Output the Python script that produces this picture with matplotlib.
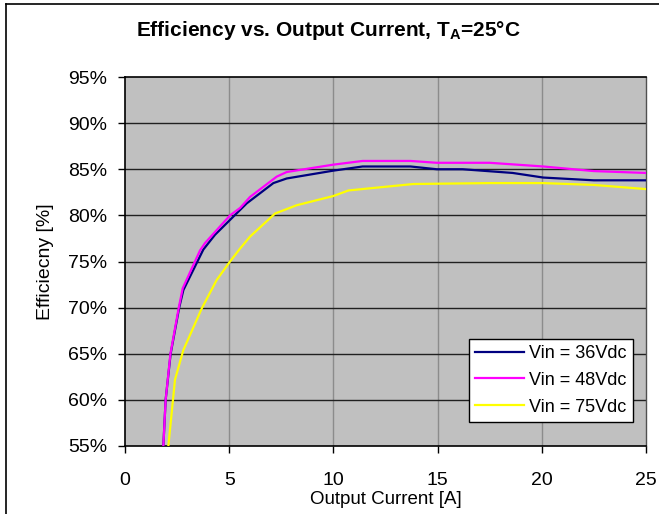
import numpy as np
import matplotlib
matplotlib.use('Agg')
from matplotlib import pyplot as plt
from matplotlib.lines import Line2D
from matplotlib.ticker import FuncFormatter

plt.rcParams['font.family'] = ['Liberation Sans', 'DejaVu Sans']
plt.rcParams['mathtext.fontset'] = 'custom'
plt.rcParams['mathtext.rm'] = 'Liberation Sans'
plt.rcParams['mathtext.bf'] = 'Liberation Sans:bold'

# values
i_36 = [1.84, 1.95, 2.19, 2.6, 2.8, 3.76, 4.32, 5.84, 7.12, 7.76, 10.0, 11.4, 13.7, 14.96, 16.2, 18.6, 20.07, 22.5, 25.0]
eff_36 = [55.0, 60.0, 65.0, 70.0, 71.9, 76.3, 77.9, 81.3, 83.5, 84.0, 84.85, 85.3, 85.3, 85.0, 85.0, 84.6, 84.1, 83.8, 83.8]

i_48 = [1.84, 1.95, 2.18, 2.58, 2.77, 3.6, 3.84, 5.04, 5.52, 6.0, 7.28, 7.76, 10.0, 11.4, 13.7, 14.96, 17.5, 20.07, 22.5, 25.0]
eff_48 = [55.0, 60.0, 65.0, 70.0, 72.1, 76.2, 77.0, 80.0, 80.8, 82.0, 84.2, 84.7, 85.5, 85.9, 85.9, 85.7, 85.7, 85.3, 84.8, 84.6]

i_75 = [2.08, 2.4, 2.8, 3.68, 4.4, 5.04, 5.52, 6.0, 7.2, 8.24, 10.0, 10.72, 11.6, 13.84, 17.5, 20.07, 22.5, 25.0]
eff_75 = [55.0, 62.2, 65.4, 69.9, 73.0, 75.0, 76.4, 77.7, 80.2, 81.1, 82.1, 82.7, 82.9, 83.4, 83.5, 83.5, 83.3, 82.85]

labels = ['Vin = 36Vdc', 'Vin = 48Vdc', 'Vin = 75Vdc']
colors = ['#000080', '#FF00FF', '#FFFF00']

fig = plt.figure(figsize=(6.59, 5.14), dpi=100)
ax = fig.add_axes([125/659, (514-446)/514, (646-125)/659, (446-77)/514])
ax.set_facecolor('#C0C0C0')

ax.plot(i_36, eff_36, color=colors[0], lw=1.6, label=labels[0], zorder=3)
ax.plot(i_48, eff_48, color=colors[1], lw=1.6, label=labels[1], zorder=4)
ax.plot(i_75, eff_75, color=colors[2], lw=1.6, label=labels[2], zorder=3)

ax.set_xlim(0, 25)
ax.set_ylim(55, 95)
ax.set_xticks(np.arange(0, 26, 5))
ax.set_yticks(np.arange(55, 96, 5))
ax.yaxis.set_major_formatter(FuncFormatter(lambda v, p: '%d%%' % v))

for x in [5, 10, 15, 20]:
    ax.axvline(x, color='#8C8C8C', lw=1, zorder=1)
for y in range(60, 95, 5):
    ax.axhline(y, color='#202020', lw=1, zorder=1)

ax.tick_params(axis='both', direction='out', length=5, width=1, labelsize=14, colors='black')
ax.tick_params(axis='x', pad=14)
ax.tick_params(axis='y', pad=8)
for s in ['left', 'bottom', 'top']:
    ax.spines[s].set_color('black')
    ax.spines[s].set_linewidth(1.2)
ax.spines['right'].set_color('#505050')
ax.spines['right'].set_linewidth(1)

ax.set_xlabel('Output Current [A]', fontsize=13.5, labelpad=1)
ax.set_ylabel('Efficiecny [%]', fontsize=14, labelpad=10)
fig.text(328/659, 1 - 31/514, r'Efficiency vs. Output Current, T$_\mathbf{A}$=25°C',
         fontsize=15, fontweight='bold', ha='center', va='center')

leg = ax.legend(loc='lower right', bbox_to_anchor=(633/659, (514-422)/514),
                bbox_transform=fig.transFigure, borderaxespad=0, fontsize=13, frameon=True,
                fancybox=False, edgecolor='black', framealpha=1,
                handlelength=2.7, borderpad=0.35, labelspacing=0.55, handletextpad=0.3)
leg.get_frame().set_linewidth(1)

# outer chart frame
fig.add_artist(Line2D([6/659, 6/659], [0, 1 - 4/514], transform=fig.transFigure, color='black', lw=1.2))
fig.add_artist(Line2D([6/659, 1], [1 - 4/514, 1 - 4/514], transform=fig.transFigure, color='black', lw=1.2))

fig.savefig('out.png', dpi=100)
